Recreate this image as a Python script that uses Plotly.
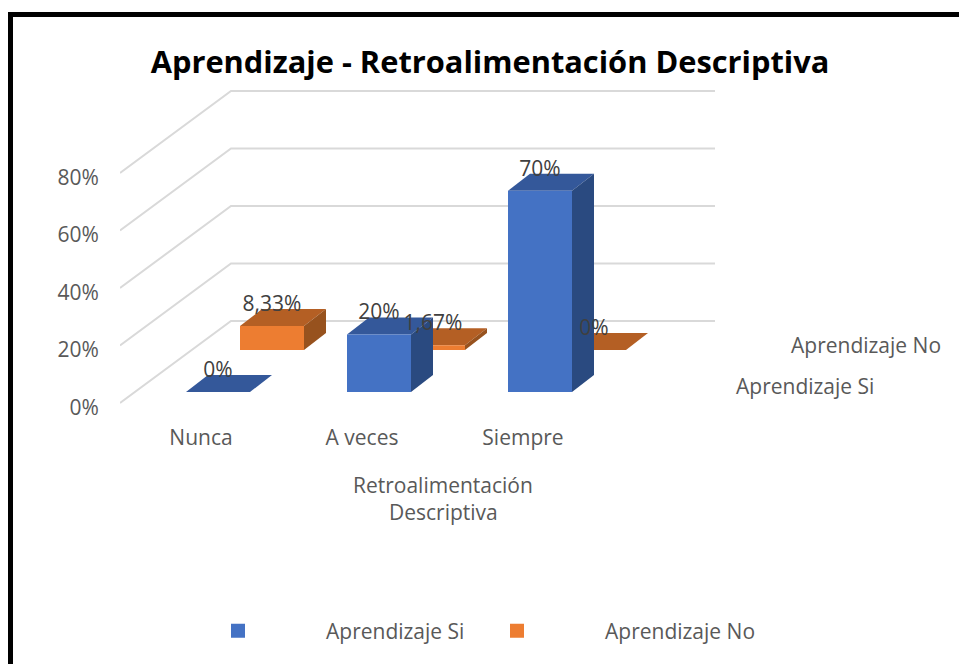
import plotly.graph_objects as go

categories = ["Nunca", "A veces", "Siempre"]
aprendizaje_si = [0, 20, 70]
aprendizaje_no = [8.33, 1.67, 0]
labels_si = ["0%", "20%", "70%"]
labels_no = ["8,33%", "1,67%", "0%"]
y_ticks = [0, 20, 40, 60, 80]
y_tick_text = ["0%", "20%", "40%", "60%", "80%"]
wall_levels = [0, 20, 40, 60, 80]

W, H = 959, 664
L, R, T, B = 120, 959, 20, 420          # plot area in px
PX_X, PX_Y = 161.0, 2.875               # px per category, px per percent
X_LO = (L - 218) / PX_X
X_HI = (R - 218) / PX_X
Y_LO = (392 - B) / PX_Y
Y_HI = (392 - T) / PX_Y

BW = 64 / PX_X
DX, DY = 22 / PX_X, 17 / PX_Y           # bar depth
SX, SY = 54 / PX_X, 42 / PX_Y           # offset of the back series
LBL = 20.5 / PX_Y
FONT = "Open Sans"
BLUE = ("#4472C4", "#34589A", "#2A4A80")
ORANGE = ("#ED7D31", "#B45F24", "#97521E")


def px(x):
    return (x - L) / (R - L)


def py(y):
    return (B - y) / (B - T)


fig = go.Figure()


def poly(xs, ys, color):
    fig.add_trace(go.Scatter(x=xs, y=ys, mode="lines", fill="toself", fillcolor=color,
                             line=dict(width=0, color=color), showlegend=False, hoverinfo="skip"))


# walls
wx0, wy0 = (120 - 218) / PX_X, (392 - 403) / PX_Y
wdx, wdy = 111 / PX_X, 82 / PX_Y
wlen = 484 / PX_X
gx, gy = [], []
for lv in wall_levels:
    gx += [wx0, wx0 + wdx, wx0 + wdx + wlen, None]
    gy += [wy0 + lv, wy0 + wdy + lv, wy0 + wdy + lv, None]
fig.add_trace(go.Scatter(x=gx, y=gy, mode="lines", line=dict(color="#D9D9D9", width=2),
                         showlegend=False, hoverinfo="skip"))


def bars(values, colors, ox, oy):
    for i, v in enumerate(values):
        x0, x1 = i - BW / 2 + ox, i + BW / 2 + ox
        y0, y1 = oy, oy + v
        poly([x0, x0 + DX, x1 + DX, x1, x0], [y1, y1 + DY, y1 + DY, y1, y1], colors[1])
        poly([x1, x1 + DX, x1 + DX, x1, x1], [y0, y0 + DY, y1 + DY, y1, y0], colors[2])
        if v > 0:
            poly([x0, x1, x1, x0, x0], [y0, y0, y1, y1, y0], colors[0])


bars(aprendizaje_no, ORANGE, SX, SY)
bars(aprendizaje_si, BLUE, 0, 0)


def texts(values, labels, ox, oy):
    fig.add_trace(go.Scatter(
        x=[i + ox for i in range(len(values))],
        y=[v + oy + LBL for v in values],
        text=labels, mode="text", textposition="middle center",
        textfont=dict(family=FONT, size=21, color="#404040"),
        showlegend=False, hoverinfo="skip"))


texts(aprendizaje_si, labels_si, 0, 0)
texts(aprendizaje_no, labels_no, SX, SY)

# legend entries, one legend each so that they can sit where the reference has them
for name, c, lg in (("Aprendizaje Si", BLUE[0], "legend"), ("Aprendizaje No", ORANGE[0], "legend2")):
    fig.add_trace(go.Scatter(x=[None], y=[None], mode="markers", name=name, legend=lg,
                             marker=dict(symbol="square", size=14, color=c)))

TXT = dict(family=FONT, size=21, color="#595959")


def note(text, cx, cy, font=TXT):
    fig.add_annotation(text=text, xref="paper", yref="paper", x=px(cx), y=py(cy),
                       xanchor="center", yanchor="middle", showarrow=False, font=font)


note("Retroalimentación", 443, 485)
note("Descriptiva", 443, 512)
note("Aprendizaje No", 866, 345)
note("Aprendizaje Si", 805, 386)

for x0, x1, y0, y1 in ((8, 13, 12, H), (8, W, 12, 17)):
    fig.add_shape(type="rect", xref="paper", yref="paper", x0=px(x0), x1=px(x1), y0=py(y0), y1=py(y1),
                  fillcolor="#000000", line_width=0, layer="above")

fig.update_layout(
    width=W, height=H, margin=dict(l=L, r=W - R, t=T, b=H - B),
    paper_bgcolor="white", plot_bgcolor="white",
    title=dict(text="<b>Aprendizaje - Retroalimentación Descriptiva</b>", xref="container", yref="container",
               x=490 / W, y=1 - 62 / H, xanchor="center", yanchor="middle",
               font=dict(family=FONT, size=30.8, color="#000000")),
    xaxis=dict(range=[X_LO, X_HI], showgrid=False, zeroline=False, showline=False,
               tickvals=[i - 17 / PX_X for i in range(len(categories))], ticktext=categories,
               ticks="", ticklabelstandoff=3, tickfont=TXT),
    yaxis=dict(range=[Y_LO, Y_HI], showgrid=False, zeroline=False, showline=False,
               tickvals=[v - 15.5 / PX_Y for v in y_ticks], ticktext=y_tick_text,
               ticks="outside", ticklen=16, tickcolor="rgba(0,0,0,0)", tickfont=TXT),
    legend=dict(x=px(150), y=py(631), xanchor="left", yanchor="middle",
                itemwidth=166, font=TXT, bgcolor="rgba(0,0,0,0)"),
    legend2=dict(x=px(429), y=py(631), xanchor="left", yanchor="middle",
                 itemwidth=166, font=TXT, bgcolor="rgba(0,0,0,0)"),
    showlegend=True,
)
fig.write_html("out.html", config={"displayModeBar": False},
               post_script="document.body.style.margin='0';")
